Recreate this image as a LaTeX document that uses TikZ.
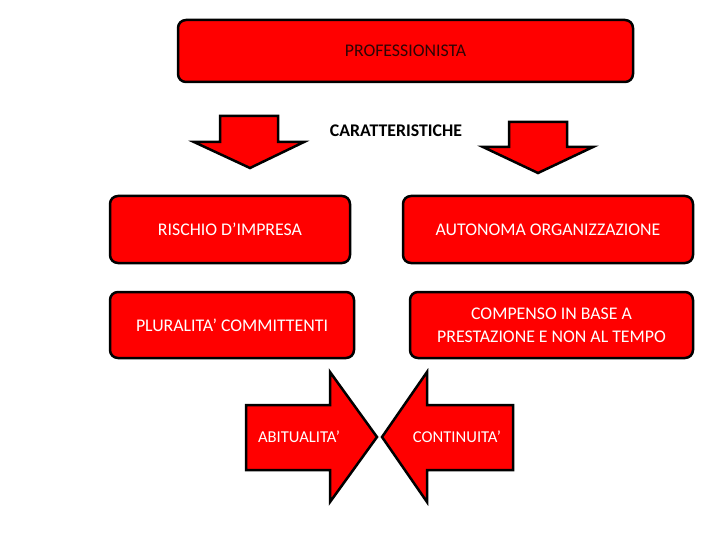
\documentclass[tikz,border=0pt]{standalone}
\usepackage{fontspec}
\setmainfont{Carlito}
\definecolor{boxred}{RGB}{255,0,0}
\definecolor{darktxt}{RGB}{45,5,5}
\begin{document}
\begin{tikzpicture}[x=1pt,y=-1pt,
  rbox/.style={draw=black,line width=2.5pt,fill=boxred,rounded corners=8pt,
    text=white,font=\fontsize{17.8}{23}\selectfont,align=center,inner sep=0pt},
  arrowshape/.style={draw=black,line width=2.5pt,fill=boxred,line join=miter},
  lbl/.style={font=\fontsize{16.6}{20}\selectfont,text=white}]
\useasboundingbox (0,0) rectangle (720,540);
\fill[white] (0,0) rectangle (720,540);
\node[rbox,text=darktxt,minimum width=455pt,minimum height=62pt] (prof) at (405.5,51) {PROFESSIONISTA};
\node[font=\bfseries\fontsize{17.8}{23}\selectfont] (car) at (396,131) {CARATTERISTICHE};
\draw[arrowshape] (220,116) -- (278,116) -- (278,142) -- (304,142) -- (250,168) -- (194,142) -- (220,142) -- cycle;
\draw[arrowshape] (509,122) -- (567,122) -- (567,147) -- (593,147) -- (538,173) -- (483,147) -- (509,147) -- cycle;
\node[rbox,minimum width=240pt,minimum height=67pt] (risk) at (230,229.5) {RISCHIO D’IMPRESA};
\node[rbox,minimum width=290pt,minimum height=67pt] (auto) at (548,229.5) {AUTONOMA ORGANIZZAZIONE};
\node[rbox,minimum width=244pt,minimum height=66pt] (plur) at (232,325) {PLURALITA’ COMMITTENTI};
\node[rbox,minimum width=283pt,minimum height=66pt] (comp) at (551.5,325) {COMPENSO IN BASE  A\\PRESTAZIONE E NON AL TEMPO};
\draw[arrowshape] (246,405) -- (330,405) -- (330,372) -- (377,437) -- (330,502) -- (330,470) -- (246,470) -- cycle;
\draw[arrowshape] (513,405) -- (427,405) -- (427,372) -- (382,437) -- (427,502) -- (427,470) -- (513,470) -- cycle;
\node[lbl] (abit) at (299,437) {ABITUALITA’};
\node[lbl] (cont) at (457,437) {CONTINUITA’};
\end{tikzpicture}
\end{document}
